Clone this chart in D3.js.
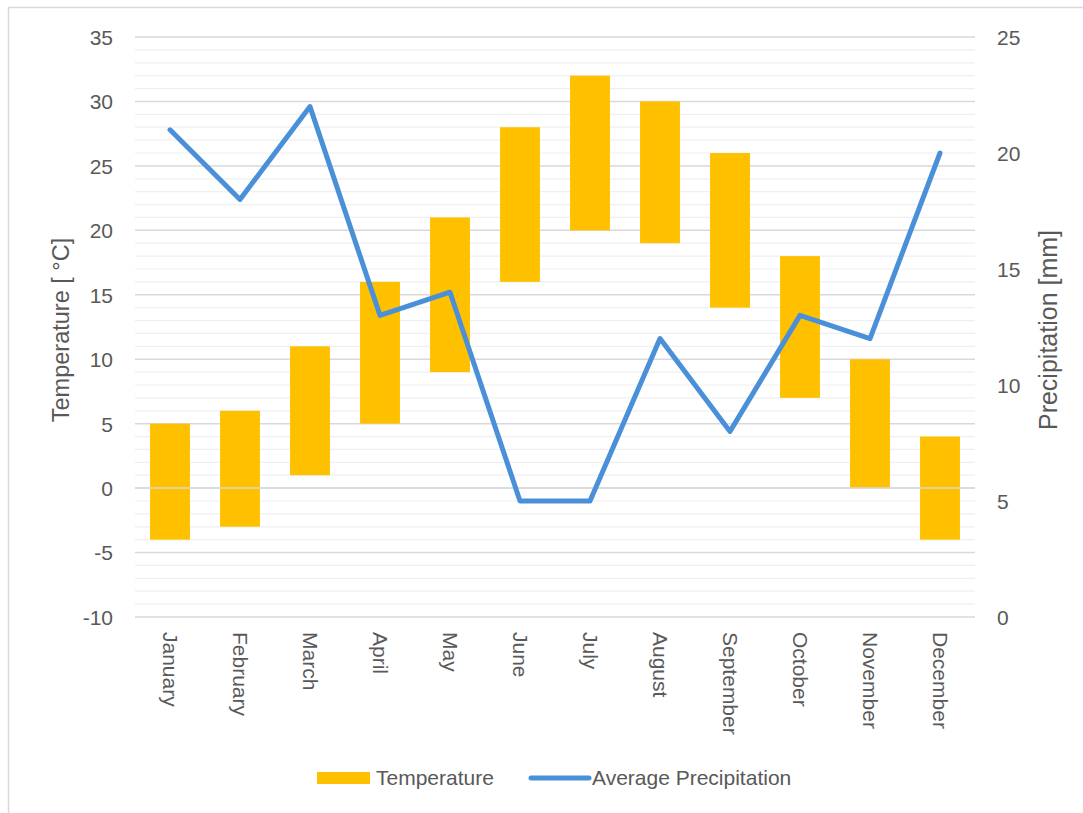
<!DOCTYPE html>
<html><head><meta charset="utf-8">
<script src="https://cdn.jsdelivr.net/npm/d3@7"></script>
<style>body{margin:0;background:#fff;}text{font-family:"Liberation Sans",Arial,sans-serif;fill:#595959;}</style>
</head><body><svg id="c" width="1083" height="813"></svg>
<script>
const months = ["January","February","March","April","May","June","July","August","September","October","November","December"];
const tempMin = [-4,-3,1,5,9,16,20,19,14,7,0,-4];
const tempMax = [5,6,11,16,21,28,32,30,26,18,10,4];
const precip = [21,18,22,13,14,5,5,12,8,13,12,20];
const leftTicks = [-10,-5,0,5,10,15,20,25,30,35];
const rightTicks = [0,5,10,15,20,25];

const svg = d3.select("#c");
const L=135,R=975,T=37,B=617;
svg.append("rect").attr("x",8.5).attr("y",7.5).attr("width",1200).attr("height",1000).attr("fill","none").attr("stroke","#d9d9d9").attr("stroke-width",1.5);

const x = d3.scaleBand().domain(months).range([L,R]).paddingInner(0.43).paddingOuter(0.215);
const yL = d3.scaleLinear().domain([-10,35]).range([B,T]);
const yR = d3.scaleLinear().domain([0,25]).range([B,T]);

// minor grid
svg.append("g").selectAll("line").data(d3.range(-10,36,1).filter(v=>v%5!==0)).join("line")
  .attr("x1",L).attr("x2",R).attr("y1",d=>yL(d)).attr("y2",d=>yL(d)).attr("stroke","#efefef").attr("stroke-width",1.2);
svg.append("g").selectAll("line").data(leftTicks).join("line")
  .attr("x1",L).attr("x2",R).attr("y1",d=>yL(d)).attr("y2",d=>yL(d)).attr("stroke","#d9d9d9").attr("stroke-width",1.5);

// bars
svg.append("g").selectAll("rect").data(months).join("rect")
  .attr("x",d=>x(d)).attr("width",x.bandwidth())
  .attr("y",(d,i)=>yL(tempMax[i])).attr("height",(d,i)=>yL(tempMin[i])-yL(tempMax[i]))
  .attr("fill","#FFC000");
// zero axis line on top
svg.append("line").attr("x1",L).attr("x2",R).attr("y1",yL(0)).attr("y2",yL(0)).attr("stroke","#d9d9d9").attr("stroke-width",1.5);

// line
svg.append("path").datum(precip).attr("fill","none").attr("stroke","#4A90D9").attr("stroke-width",5)
  .attr("stroke-linejoin","round").attr("stroke-linecap","round")
  .attr("d",d3.line().x((d,i)=>x(months[i])+x.bandwidth()/2).y(d=>yR(d)));

// axes
const gl = svg.append("g").attr("transform",`translate(${L-22},0)`).call(d3.axisLeft(yL).tickValues(leftTicks).tickFormat(d=>String(d)).tickSize(0).tickPadding(0));
gl.select(".domain").remove();
gl.selectAll("text").attr("font-size",21).attr("dy","0.35em").attr("fill","#595959").style("font-family","'Liberation Sans',Arial,sans-serif");
const gr = svg.append("g").attr("transform",`translate(${R+22},0)`).call(d3.axisRight(yR).tickValues(rightTicks).tickFormat(d=>String(d)).tickSize(0).tickPadding(0));
gr.select(".domain").remove();
gr.selectAll("text").attr("font-size",21).attr("dy","0.35em").attr("fill","#595959").style("font-family","'Liberation Sans',Arial,sans-serif");

const gx = svg.append("g").attr("transform",`translate(0,${B+15})`).call(d3.axisBottom(x).tickSize(0).tickPadding(0));
gx.select(".domain").remove();
gx.selectAll("text").attr("font-size",21).attr("transform","rotate(90)").attr("text-anchor","start").attr("dy","0.35em").attr("x",0).attr("y",0).attr("fill","#595959").style("font-family","'Liberation Sans',Arial,sans-serif");

svg.append("text").attr("transform","translate(69,330) rotate(-90)").attr("text-anchor","middle").attr("font-size",23.5).text("Temperature [ °C]");
svg.append("text").attr("transform","translate(1057,330) rotate(-90)").attr("text-anchor","middle").attr("font-size",25).text("Precipitation [mm]");

// legend
svg.append("rect").attr("x",317).attr("y",772).attr("width",53).attr("height",12).attr("fill","#FFC000");
svg.append("text").attr("x",376).attr("y",785).attr("font-size",21).text("Temperature");
svg.append("line").attr("x1",531).attr("x2",589).attr("y1",778).attr("y2",778).attr("stroke","#4A90D9").attr("stroke-width",5).attr("stroke-linecap","round");
svg.append("text").attr("x",592).attr("y",785).attr("font-size",21).text("Average Precipitation");
</script></body></html>
